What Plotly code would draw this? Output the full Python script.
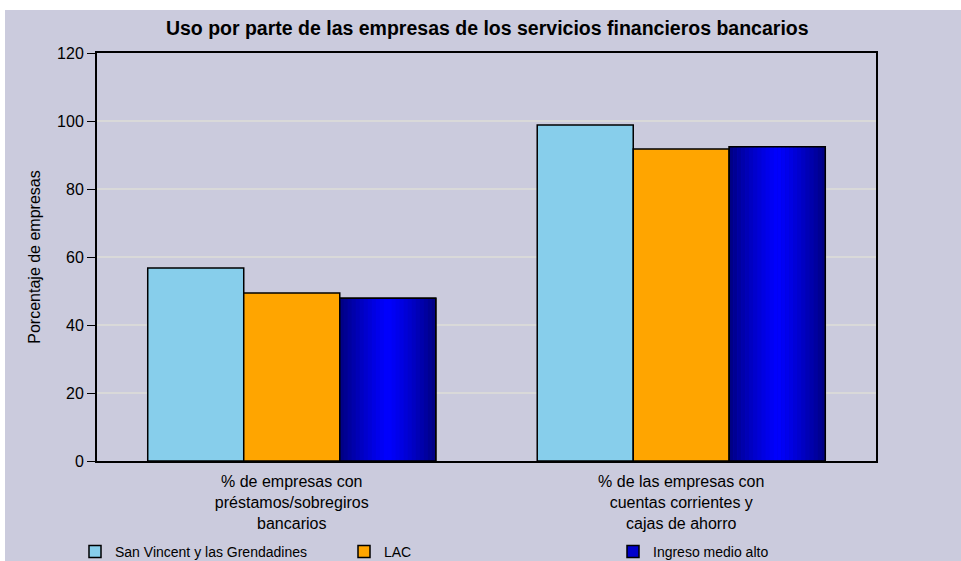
import plotly.graph_objects as go

categories = ["% de empresas con<br>préstamos/sobregiros<br>bancarios",
              "% de las empresas con<br>cuentas corrientes y<br>cajas de ahorro"]
series_names = ["San Vincent y las Grendadines", "LAC", "Ingreso medio alto"]
svg_values = [56.8, 98.8]
lac_values = [49.4, 91.8]
uma_values = [47.9, 92.4]
y_ticks = [0, 20, 40, 60, 80, 100, 120]

BG = "#CBCBDD"
BW = 0.2465
fig = go.Figure()

fig.add_trace(go.Bar(x=categories, y=svg_values, name=series_names[0],
                     marker=dict(color="#87CEEB", line=dict(color="black", width=1.5)),
                     width=BW, offset=-1.5 * BW))
fig.add_trace(go.Bar(x=categories, y=lac_values, name=series_names[1],
                     marker=dict(color="#FFA500", line=dict(color="black", width=1.5)),
                     width=BW, offset=-0.5 * BW))
fig.add_trace(go.Bar(x=categories, y=uma_values, name=series_names[2],
                     marker=dict(color="#0000CC", line=dict(color="black", width=1.5)),
                     width=BW, offset=0.5 * BW))

# horizontal gradient on the third series
N = 24
sw = BW / N
for i in range(N):
    t = abs((i + 0.5) / N - 0.5) * 2  # 0 center, 1 edge
    b = int(255 - (255 - 128) * t ** 1.2)
    fig.add_trace(go.Bar(x=categories, y=uma_values, showlegend=False, hoverinfo="skip",
                         marker=dict(color=f"rgb(0,0,{b})", line=dict(width=0)),
                         width=sw * 1.05, offset=0.5 * BW + i * sw))
fig.add_trace(go.Bar(x=categories, y=uma_values, showlegend=False, hoverinfo="skip",
                     marker=dict(color="rgba(0,0,0,0)", line=dict(color="black", width=1.5)),
                     width=BW, offset=0.5 * BW))

L, R, T, B = 97, 85, 53, 100
W, H = 961, 561
pw, ph = W - L - R, H - T - B

def px2x(px):
    return (px - L) / pw

def py2y(py):
    return (H - B - py) / ph

fig.update_layout(
    width=W, height=H,
    margin=dict(l=L, r=R, t=T, b=B, autoexpand=False),
    paper_bgcolor="white",
    plot_bgcolor=BG,
    barmode="overlay",
    font=dict(family="Liberation Sans, Arial, sans-serif", size=15, color="black"),
    title=dict(text="<b>Uso por parte de las empresas de los servicios financieros bancarios</b>",
               font=dict(family="Liberation Sans Narrow, Arial Narrow, sans-serif", size=19.5, color="black"),
               x=0.507, xanchor="center", y=1 - 28 / H, yanchor="middle", yref="container"),
    showlegend=True,
    legend=dict(orientation="h", x=px2x(75), xanchor="left", y=py2y(536), yanchor="top",
                bgcolor="rgba(0,0,0,0)", entrywidth=224, entrywidthmode="pixels",
                font=dict(size=14), traceorder="normal", itemwidth=30),
    shapes=[dict(type="rect", xref="paper", yref="paper", layer="below",
                 x0=px2x(5), x1=px2x(W + 5), y0=py2y(H + 5), y1=py2y(10),
                 fillcolor=BG, line=dict(width=0))],
)
fig.update_yaxes(range=[0, 120], tickvals=y_ticks, showgrid=True, gridcolor="#D9D9D9", gridwidth=1.5,
                 showline=True, linecolor="black", linewidth=2, mirror=True,
                 ticks="outside", ticklen=8, tickcolor="black", tickfont=dict(size=16),
                 title=dict(text="Porcentaje de empresas", font=dict(size=16), standoff=12),
                 zeroline=False, automargin=False)
fig.update_xaxes(showline=True, linecolor="black", linewidth=2, mirror=True, ticks="",
                 tickfont=dict(size=16), ticklabelstandoff=5, range=[-0.5, 1.5], automargin=False)

fig.write_html("out.html", config={"displayModeBar": False},
               post_script="document.body.style.margin='0';document.body.style.overflow='hidden';")
